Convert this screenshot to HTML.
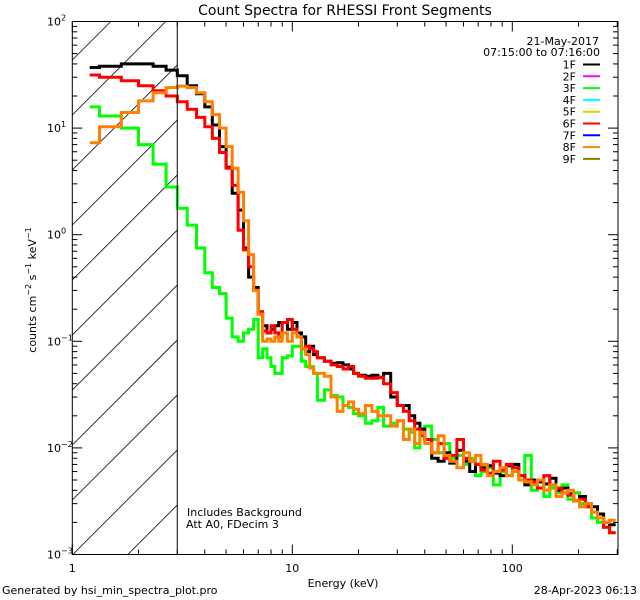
<!DOCTYPE html>
<html><head><meta charset="utf-8"><style>
html,body{margin:0;padding:0;background:#fff;width:640px;height:600px;overflow:hidden;}
svg{display:block;font-family:"DejaVu Sans","Liberation Sans",sans-serif;}
</style></head><body>
<svg id="chart" width="640" height="600" viewBox="0 0 640 600" xmlns="http://www.w3.org/2000/svg">
<defs><clipPath id="plotclip"><rect x="72.3" y="21.5" width="545.7" height="533"/></clipPath></defs>
<text x="345" y="15" font-size="14" text-anchor="middle">Count Spectra for RHESSI Front Segments</text>
<g id="hatch"></g>
<g id="series" clip-path="url(#plotclip)"></g>
<g id="axes"></g>
<text transform="translate(36,290) rotate(-90)" font-size="11" text-anchor="middle">counts cm<tspan font-size="8" dy="-5">−2</tspan><tspan dy="5"> s</tspan><tspan font-size="8" dy="-5">−1</tspan><tspan dy="5"> keV</tspan><tspan font-size="8" dy="-5">−1</tspan></text>
<text x="343" y="587" font-size="11" text-anchor="middle">Energy (keV)</text>
<text x="187" y="516" font-size="11">Includes Background</text>
<text x="186" y="528" font-size="11">Att A0, FDecim 3</text>
<text x="2" y="594" font-size="11">Generated by hsi_min_spectra_plot.pro</text>
<text x="637" y="594" font-size="11" text-anchor="end">28-Apr-2023 06:13</text>
<text x="599" y="45" font-size="11" text-anchor="end">21-May-2017</text>
<text x="600" y="56" font-size="11" text-anchor="end">07:15:00 to 07:16:00</text>
<g id="legend"></g>
</svg>
<script>
const edges=[1.2,1.33,1.67,2,2.33,2.67,3,3.33,3.67,4,4.33,4.67,5,5.33,5.67,6,6.33,6.67,7,7.33,7.67,8,8.33,8.67,9,9.5,10,10.5,11,11.5,12,12.5,13,14,15,16,17,18,19,20,21.5,23,24.5,26,28,30,32,34,36,38,40,43,46,49,52,56,60,64,68,72,77,82,88,94,100,107,114,122,130,139,148,158,168,179,190,202,215,229,244,260,277,295];
const seg1F=[37,38,40,40,38,35,31,25,21,15.8,10.7,6.7,4.3,2.45,1.7,0.75,0.40,0.32,0.18,0.14,0.12,0.13,0.14,0.15,0.15,0.13,0.15,0.12,0.11,0.08,0.09,0.075,0.07,0.065,
0.062,0.063,0.06,0.055,0.05,0.048,0.047,0.048,0.046,0.05,0.03,0.025,0.025,0.02,0.017,0.015,0.012,0.008,0.0075,0.009,0.0072,0.0095,0.0075,0.006,0.007,0.0065,0.0068,0.0058,0.0055,0.0068,0.007,0.0055,0.0045,0.005,0.0048,0.0046,0.0052,0.004,0.0042,0.0037,0.0032,0.0035,0.003,0.0028,0.0024,0.002,0.0019];
const seg3F=[15.8,13,10,7,4.6,2.8,1.77,1.23,0.75,0.44,0.32,0.28,0.165,0.11,0.1,0.12,0.13,0.16,0.07,0.085,0.07,0.058,0.05,0.05,0.07,0.073,0.09,0.09,0.065,0.058,0.058,0.05,0.028,0.035,
0.031,0.03,0.025,0.024,0.021,0.02,0.017,0.018,0.024,0.016,0.017,0.018,0.015,0.014,0.01,0.015,0.016,0.012,0.009,0.011,0.008,0.0085,0.007,0.008,0.0055,0.006,0.0065,0.0045,0.006,0.0055,0.0065,0.005,0.0085,0.004,0.005,0.0035,0.0042,0.0038,0.0045,0.0033,0.0038,0.003,0.0028,0.0022,0.002,0.0018,0.0016];
const seg6F=[31.5,30,27.8,25,22.4,20,17.7,15,12.6,10.3,8,5.9,4.2,2.9,1.1,0.72,0.5,0.3,0.19,0.125,0.12,0.14,0.12,0.11,0.15,0.16,0.13,0.11,0.085,0.09,0.085,0.08,0.07,0.065,
0.06,0.058,0.055,0.058,0.05,0.047,0.045,0.045,0.046,0.04,0.033,0.025,0.022,0.018,0.015,0.013,0.012,0.009,0.011,0.008,0.0085,0.012,0.008,0.0075,0.007,0.0062,0.0058,0.0075,0.0062,0.007,0.0065,0.0055,0.005,0.0048,0.0042,0.0055,0.0045,0.0042,0.0038,0.0036,0.0032,0.0033,0.0028,0.0025,0.0022,0.0018,0.0016];
const seg8F=[7.3,10.3,14,18,21.5,24,24.8,24,21.5,17.7,13.4,10,6.7,4.2,2.5,1.35,0.65,0.3,0.18,0.1,0.105,0.1,0.11,0.1,0.12,0.1,0.12,0.11,0.085,0.075,0.056,0.05,0.05,0.047,
0.03,0.022,0.025,0.027,0.023,0.021,0.025,0.022,0.02,0.02,0.016,0.018,0.012,0.015,0.011,0.014,0.011,0.009,0.013,0.0085,0.0075,0.0065,0.009,0.0075,0.0085,0.007,0.0055,0.006,0.0065,0.0055,0.006,0.005,0.0048,0.0045,0.005,0.004,0.0045,0.0035,0.0038,0.004,0.0032,0.0028,0.003,0.0025,0.0022,0.002,0.0021];
const legendLabels=["1F","2F","3F","4F","5F","6F","7F","8F","9F"];
const legendColors=["#000000","#ff00ff","#00ff00","#00ffff","#d4d400","#ff0000","#0000ff","#ff8000","#808000"];
const yTickExps=[-3,-2,-1,0,1,2];
const xTickLabels=["1","10","100"];
const xTickValues=[1,10,100];

const NS="http://www.w3.org/2000/svg";
const L=72.3,R=618,T=21.5,B=554.5;
const xmin=1,xmax=Math.pow(10,(R-L)/220);
const ymin=-3,ymax=2;
function sx(e){return L+(Math.log10(e)-Math.log10(xmin))/(Math.log10(xmax)-Math.log10(xmin))*(R-L);}
function sy(v){return B-(Math.log10(v)-ymin)/(ymax-ymin)*(B-T);}
function mk(tag,attrs,parent){const el=document.createElementNS(NS,tag);for(const k in attrs)el.setAttribute(k,attrs[k]);parent.appendChild(el);return el;}

const hatch=document.getElementById('hatch');
const HX=sx(3);
for(let c=-300;c<900;c+=55){
  // line y = c+85 - (x-L), clipped to [L,HX]x[T,B]
  const b=c+85;
  let xa=Math.max(L, L+(b-B)), xb=Math.min(HX, L+(b-T));
  if(xb<=xa) continue;
  const ln=mk('line',{x1:xa,y1:b-(xa-L),x2:xb,y2:b-(xb-L),stroke:'#000','stroke-width':0.8},hatch);
  
  
}
const series=document.getElementById('series');
function drawSeries(vals,color,name){
  let d='';
  for(let i=0;i<vals.length;i++){
    const x0=sx(edges[i]),x1=Math.min(sx(edges[i+1]),R),y=sy(vals[i]);
    d+=(i===0?'M':'L')+x0.toFixed(1)+','+y.toFixed(1)+'L'+x1.toFixed(1)+','+y.toFixed(1);
  }
  const p=mk('path',{d:d,fill:'none',stroke:color,'stroke-width':3,'stroke-linejoin':'miter'},series);
  
  
}
drawSeries(seg3F,'#00ff00','series-3f');
drawSeries(seg1F,'#000000','series-1f');
drawSeries(seg6F,'#ff0000','series-6f');
drawSeries(seg8F,'#ff8000','series-8f');

const axes=document.getElementById('axes');
const fr=mk('rect',{x:L,y:T,width:R-L,height:B-T,fill:'none',stroke:'#000','stroke-width':1},axes);


const vl=mk('line',{x1:HX,y1:T,x2:HX,y2:B,stroke:'#000','stroke-width':1},axes);


for(let dec=1;dec<=100;dec*=10){
  for(let m=1;m<=9;m++){
    const e=dec*m; if(e>xmax)break;
    const x=sx(e),len=(m===1)?10:5;
    mk('line',{x1:x,y1:B,x2:x,y2:B-len,stroke:'#000'},axes);
    mk('line',{x1:x,y1:T,x2:x,y2:T+len,stroke:'#000'},axes);
  }
}
xTickValues.forEach((v,i)=>{
  const t=mk('text',{x:sx(v),y:572,'font-size':11,'text-anchor':'middle'},axes);
  t.textContent=xTickLabels[i];
  
  
});
for(let ex=-3;ex<2;ex++){
  for(let m=1;m<=9;m++){
    const y=sy(m*Math.pow(10,ex)),len=(m===1)?10:5;
    mk('line',{x1:L,y1:y,x2:L+len,y2:y,stroke:'#000'},axes);
    mk('line',{x1:R,y1:y,x2:R-len,y2:y,stroke:'#000'},axes);
  }
}
yTickExps.forEach(ex=>{
  const y=sy(Math.pow(10,ex));
  const t=mk('text',{x:47,y:y+4,'font-size':11},axes);
  
  
  t.appendChild(document.createTextNode('10'));
  const s=mk('tspan',{'font-size':8,dy:-5},t);
  s.textContent=(ex<0?'−':'')+Math.abs(ex);
});
const lg=document.getElementById('legend');
legendLabels.forEach((lab,i)=>{
  const y=64.5+i*11.8;
  const t=mk('text',{x:576,y:y+4,'font-size':11,'text-anchor':'end'},lg);
  t.textContent=lab;
  
  
  const l=mk('line',{x1:583,y1:y,x2:600,y2:y,stroke:legendColors[i],'stroke-width':2},lg);
  
  
});
</script>
</body></html>
